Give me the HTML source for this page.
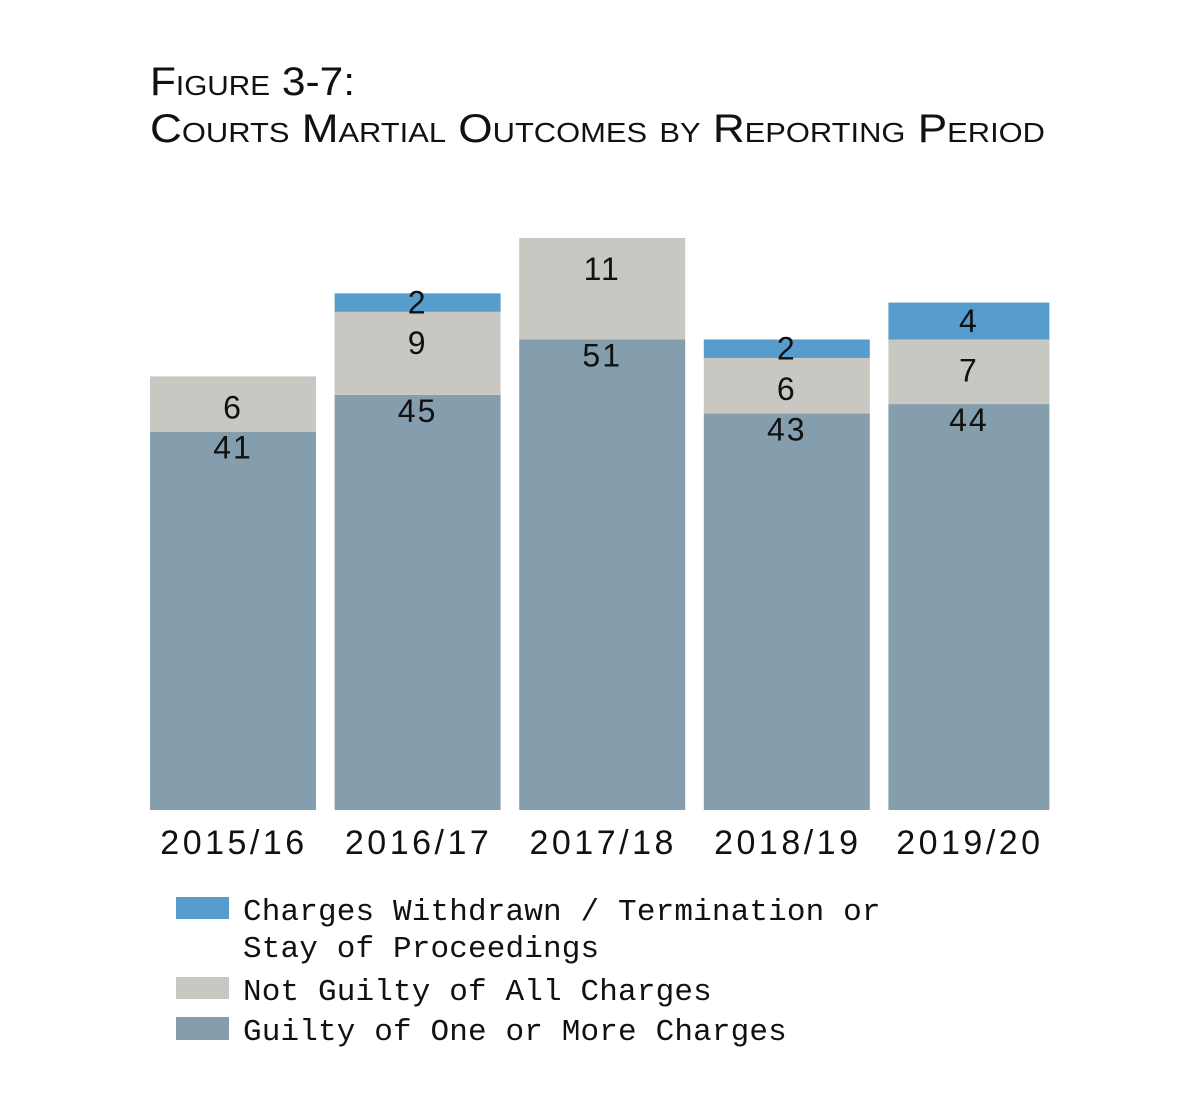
<!DOCTYPE html>
<html><head><meta charset="utf-8"><style>
body{margin:0;background:#fff;}
svg text{font-family:"Liberation Sans",sans-serif;}
</style></head><body>
<svg width="1200" height="1100" xmlns="http://www.w3.org/2000/svg" id="chart">
<text x="150" y="95" font-size="40" fill="#111" style="font-variant:small-caps" textLength="205" lengthAdjust="spacingAndGlyphs">Figure 3-7:</text>
<text x="150" y="142" font-size="40" fill="#111" style="font-variant:small-caps" textLength="895" lengthAdjust="spacingAndGlyphs">Courts Martial Outcomes by Reporting Period</text>
<g id="bars"></g>
<g id="legend">
<rect x="176" y="897" width="53" height="22" fill="#569ccc"/>
<text x="243" y="920" font-size="31" style="font-family:'Liberation Mono',monospace;letter-spacing:0.15px" fill="#111">Charges Withdrawn / Termination or</text>
<text x="243" y="957" font-size="31" style="font-family:'Liberation Mono',monospace;letter-spacing:0.15px" fill="#111">Stay of Proceedings</text>
<rect x="176" y="977" width="53" height="22" fill="#c8c7c2"/>
<text x="243" y="1000" font-size="31" style="font-family:'Liberation Mono',monospace;letter-spacing:0.15px" fill="#111">Not Guilty of All Charges</text>
<rect x="176" y="1017" width="53" height="23" fill="#849ead"/>
<text x="243" y="1040" font-size="31" style="font-family:'Liberation Mono',monospace;letter-spacing:0.15px" fill="#111">Guilty of One or More Charges</text>
</g>
</svg>
<script>
const categories=["2015/16","2016/17","2017/18","2018/19","2019/20"];
const guilty=[41,45,51,43,44];
const notGuilty=[6,9,11,6,7];
const withdrawn=[0,2,0,2,4];
const NS="http://www.w3.org/2000/svg";
const g=document.getElementById("bars");
const base=810, scale=572/62;
const y=v=>base-v*scale;
const x0=150, step=184.6;
function mk(tag,attrs){const e=document.createElementNS(NS,tag);for(const k in attrs)e.setAttribute(k,attrs[k]);g.appendChild(e);return e;}
categories.forEach((c,i)=>{
  const x=x0+i*step, bw=(i==categories.length-1)?161:166, cx=x+bw/2;
  const segs=[[guilty[i],"#849ead","guilty"],[notGuilty[i],"#c8c7c2","not-guilty"],[withdrawn[i],"#569ccc","withdrawn"]];
  let cum=0;
  segs.forEach(([v,col,nm],k)=>{
    if(v<=0)return;
    const top=y(cum+v), bot=y(cum);
    const r=mk("rect",{x:x,y:top,width:bw,height:bot-top,fill:col});
    
    
    let ly = k==0 ? top+27 : k==1 ? top+42 : (top+bot)/2+11;
    const t=mk("text",{x:cx,y:ly,"font-size":32,"text-anchor":"middle",fill:"#111","letter-spacing":"2"});
    t.textContent=v;
    
    
    cum+=v;
  });
  const t=mk("text",{x:cx+1,y:854,"font-size":34,"text-anchor":"middle",fill:"#111","letter-spacing":"3.5"});
  t.textContent=c;
  
  
});
</script>
</body></html>
